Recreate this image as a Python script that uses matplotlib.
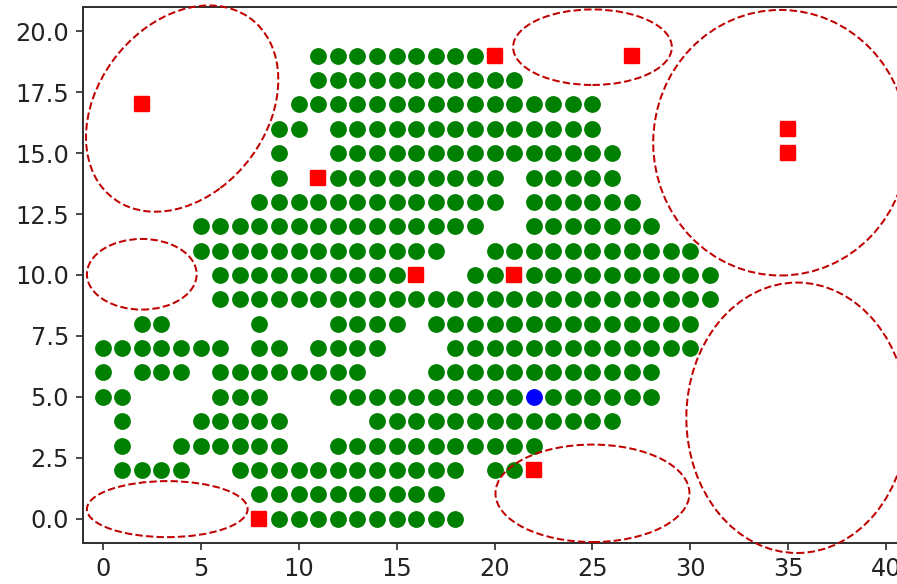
import numpy as np
import matplotlib
matplotlib.use('Agg')
import matplotlib.pyplot as plt
from matplotlib.patches import Ellipse
from matplotlib.markers import MarkerStyle

# green points, one list of x positions per row (y value)
row_19 = list(range(11, 20))
row_18 = list(range(11, 22))
row_17 = list(range(10, 26))
row_16 = [9, 10] + list(range(12, 26))
row_15 = [9] + list(range(12, 27))
row_14 = [9] + list(range(12, 21)) + list(range(22, 27))
row_13 = list(range(8, 21)) + list(range(22, 28))
row_12 = list(range(5, 20)) + list(range(22, 29))
row_11 = list(range(5, 18)) + list(range(20, 31))
row_10 = list(range(6, 16)) + [19, 20] + list(range(22, 32))
row_9 = list(range(6, 32))
row_8 = [2, 3, 8] + list(range(12, 16)) + list(range(17, 31))
row_7 = list(range(0, 7)) + [8, 9] + list(range(11, 15)) + list(range(18, 31))
row_6 = [0, 2, 3, 4] + list(range(6, 14)) + list(range(17, 29))
row_5 = [0, 1, 6, 7, 8] + list(range(12, 22)) + list(range(23, 29))
row_4 = [1] + list(range(5, 10)) + list(range(14, 27))
row_3 = [1] + list(range(4, 10)) + list(range(12, 23))
row_2 = [1, 2, 3, 4] + list(range(7, 19)) + [20, 21]
row_1 = list(range(8, 18))
row_0 = list(range(9, 19))

rows = [row_0, row_1, row_2, row_3, row_4, row_5, row_6, row_7, row_8, row_9,
        row_10, row_11, row_12, row_13, row_14, row_15, row_16, row_17, row_18, row_19]

red_x = [20, 27, 2, 35, 35, 11, 16, 21, 22, 8]
red_y = [19, 19, 17, 16, 15, 14, 10, 10, 2, 0]

blue_x = [22]
blue_y = [5]

# dashed regions: centre x, centre y, width, height, angle
ell_cx = [4.06, 25.0, 34.6, 2.0, 35.44, 3.3, 25.0]
ell_cy = [16.83, 19.35, 15.43, 10.03, 4.14, 0.39, 1.04]
ell_w = [10.5, 8.1, 13.0, 5.6, 11.3, 8.2, 9.9]
ell_h = [7.6, 3.1, 10.9, 2.9, 11.1, 2.3, 4.0]
ell_ang = [31, 0, 0, 0, 0, 0, 0]

green_x = [x for r in rows for x in r]
green_y = [y for y, r in enumerate(rows) for _ in r]

fig = plt.figure(figsize=(897 / 144, 584 / 144), dpi=144)
ax = fig.add_axes([83 / 897, 41 / 584, 823 / 897, 536 / 584])

ax.plot(green_x, green_y, 'o', color='green', markersize=8.4, markeredgewidth=0, linestyle='none')
sq = MarkerStyle('s', joinstyle='round')
ax.plot(red_x, red_y, marker=sq, color='red', markersize=7.0, markeredgewidth=1.2,
        markeredgecolor='red', linestyle='none')
ax.plot(blue_x, blue_y, 'o', color='blue', markersize=8.4, markeredgewidth=0, linestyle='none')

for cx, cy, w, h, a in zip(ell_cx, ell_cy, ell_w, ell_h, ell_ang):
    e = Ellipse((cx, cy), w, h, angle=a, fill=False, edgecolor='#c00000',
                linestyle='--', linewidth=1.0, clip_on=False, zorder=5)
    ax.add_patch(e)

ax.set_xlim(-1.0, 41.0)
ax.set_ylim(-1.0, 21.0)
ax.set_xticks([0, 5, 10, 15, 20, 25, 30, 35, 40])
ax.set_yticks([0, 2.5, 5, 7.5, 10, 12.5, 15, 17.5, 20])
ax.tick_params(labelsize=12, colors='#222222')
for s in ax.spines.values():
    s.set_linewidth(1.0)
    s.set_color('#333333')

fig.savefig('out.png', dpi=144)
